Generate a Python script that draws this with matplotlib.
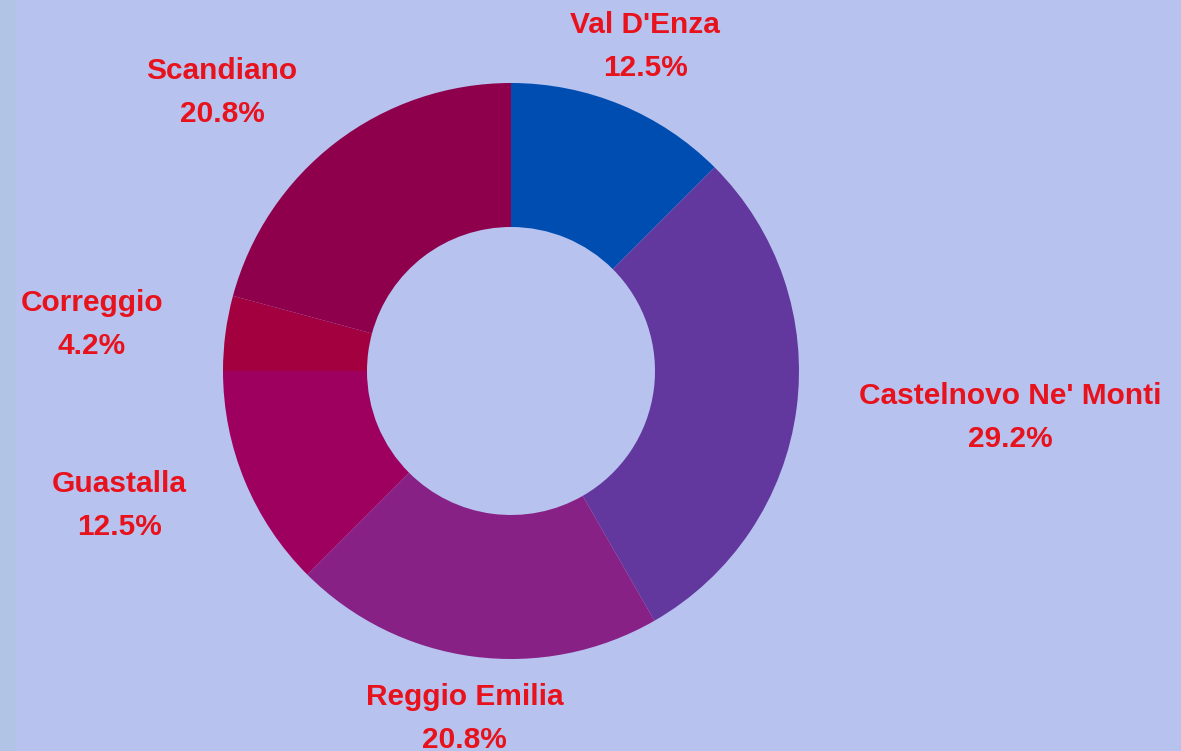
import numpy as np
import matplotlib.pyplot as plt
from matplotlib.patches import Rectangle

# share of each district (clockwise from the top)
labels = ["Val D'Enza", "Castelnovo Ne' Monti", "Reggio Emilia", "Guastalla", "Correggio", "Scandiano"]
values = [12.5, 29.2, 20.8, 12.5, 4.2, 20.8]
colors = ["#004db1", "#62389f", "#882185", "#9e0060", "#a3003f", "#8e004c"]

bg = "#b7c2ef"
fig = plt.figure(figsize=(11.81, 7.51), dpi=100, facecolor=bg)
# thin strip on the left edge
fig.patches.append(Rectangle((0, 0), 14 / 1181, 1, transform=fig.transFigure, color="#b2c4e6", zorder=0))

ax = fig.add_axes([0, 0, 1, 1])
ax.set_facecolor("none")

cx, cy = 511, 751 - 371  # pie center in pixels
R = 288
wedges, _ = ax.pie(values, colors=colors, startangle=90, counterclock=False,
                   center=(cx, cy), radius=R, wedgeprops=dict(width=R * 0.5, linewidth=0))

rl = 351  # label radius
for w, lab, v in zip(wedges, labels, values):
    ang = np.deg2rad((w.theta1 + w.theta2) / 2)
    x = cx + rl * np.cos(ang)
    y = cy + rl * np.sin(ang)
    c = np.cos(ang)
    ha = "center" if abs(c) < 0.5 else ("left" if c > 0 else "right")
    ax.text(x, y, f"{lab}\n{v:.1f}%", ha=ha, va="center", multialignment="center",
            color="#e8121c", fontsize=21.5, fontweight="bold", family="Liberation Sans",
            linespacing=1.68)

ax.set_xlim(0, 1181)
ax.set_ylim(0, 751)
ax.axis("off")
fig.savefig("out.png", dpi=100, facecolor=bg)
